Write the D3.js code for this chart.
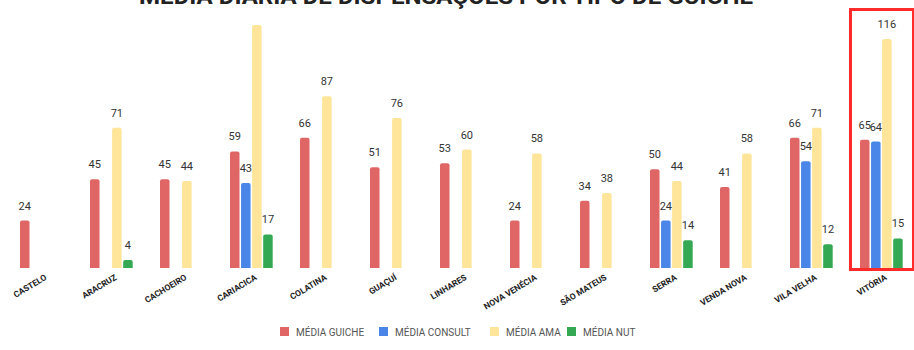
<!DOCTYPE html>
<html><head><meta charset="utf-8">
<script src="https://cdn.jsdelivr.net/npm/d3@7"></script>
<style>body{margin:0;background:#fff;} svg{display:block;}</style>
</head><body>
<svg id="c" width="914" height="350"></svg>
<script>
const categories = ["CASTELO","ARACRUZ","CACHOEIRO","CARIACICA","COLATINA","GUAÇUÍ","LINHARES","NOVA VENÉCIA","SÃO MATEUS","SERRA","VENDA NOVA","VILA VELHA","VITÓRIA"];
const seriesNames = ["MÉDIA GUICHE","MÉDIA CONSULT","MÉDIA AMA","MÉDIA NUT"];
const mediaGuiche  = [24,45,45,59,66,51,53,24,34,50,41,66,65];
const mediaConsult = [null,null,null,43,null,null,null,null,null,24,null,54,64];
const mediaAma     = [null,71,44,123,87,76,60,58,38,44,58,71,116];
const mediaNut     = [null,4,null,17,null,null,null,null,null,14,null,12,15];
const colors = ["#e06666","#4a86e8","#ffe599","#34a853"];
const title = "MÉDIA DIÁRIA DE DISPENSAÇÕES POR TIPO DE GUICHÊ";
const hiddenLabels = [["CARIACICA","MÉDIA AMA"]];
const highlighted = "VITÓRIA";

const seriesValues = [mediaGuiche, mediaConsult, mediaAma, mediaNut];
const svg = d3.select("#c");
const font = "Roboto, 'Noto Sans', sans-serif";

const x0 = d3.scaleBand().domain(categories).range([6.35, 916.35]).paddingInner(0.39).paddingOuter(0.195);
const x1 = d3.scaleBand().domain(seriesNames).range([0, x0.bandwidth()]).paddingInner(0.14).paddingOuter(0);
const y = d3.scaleLinear().domain([0, 130]).range([268, 268 - 130*1.975]);

// title (clipped at top, as in the reference)
svg.append("text").attr("x", 446).attr("y", 4).attr("text-anchor","middle")
  .attr("font-family", font).attr("font-weight","bold").attr("font-size",22)
  .attr("fill","#222").attr("textLength",614).attr("lengthAdjust","spacingAndGlyphs").text(title);

const data = [];
categories.forEach((c,i)=>seriesNames.forEach((s,j)=>{
  const v = seriesValues[j][i];
  if(v!=null) data.push({c,s,j,v});
}));

function roundTop(x, yt, w, h, r){
  r = Math.min(r, h, w/2);
  return `M${x},${yt+h}V${yt+r}Q${x},${yt} ${x+r},${yt}H${x+w-r}Q${x+w},${yt} ${x+w},${yt+r}V${yt+h}Z`;
}

const g = svg.append("g");
g.selectAll("path.bar").data(data).join("path").attr("class","bar")
  .attr("d", d => {
    const bx = x0(d.c) + x1(d.s), bw = x1.bandwidth();
    const yt = y(d.v); return roundTop(bx, yt, bw, y(0)-yt, 2);
  })
  .attr("fill", d => colors[d.j]);

g.selectAll("text.val").data(data.filter(d => !hiddenLabels.some(h => h[0]===d.c && h[1]===d.s)))
  .join("text").attr("class","val")
  .attr("x", d => x0(d.c) + x1(d.s) + x1.bandwidth()/2)
  .attr("y", d => y(d.v) - 11)
  .attr("text-anchor","middle").attr("font-family",font).attr("font-size",11).attr("fill","#333")
  .text(d => d.v);

// x axis labels
const xAxis = d3.axisBottom(x0).tickSize(0).tickPadding(0);
const ax = svg.append("g").call(xAxis);
ax.select(".domain").remove();
ax.selectAll(".tick text")
  .attr("transform", `translate(6,279) rotate(-31)`)
  .attr("x",0).attr("y",0).attr("dy",0)
  .attr("text-anchor","end").attr("font-family",font).attr("font-weight","bold")
  .attr("font-size",8.5).attr("fill","#222");

// highlight frame
svg.append("rect").attr("x", x0(highlighted) - 9.5).attr("y", 9.5)
  .attr("width", 63).attr("height", 260).attr("fill","none")
  .attr("stroke","#ff2b2b").attr("stroke-width",3);

// legend
const legendX = [280, 379, 490, 567];
const lg = svg.append("g").selectAll("g").data(seriesNames).join("g")
  .attr("transform",(d,i)=>`translate(${legendX[i]},327)`);
lg.append("rect").attr("width",9).attr("height",9).attr("fill",(d,i)=>colors[i]);
lg.append("text").attr("x",16).attr("y",8.5).attr("font-family",font).attr("font-size",10)
  .attr("fill","#555").text(d=>d);
</script>
</body></html>
